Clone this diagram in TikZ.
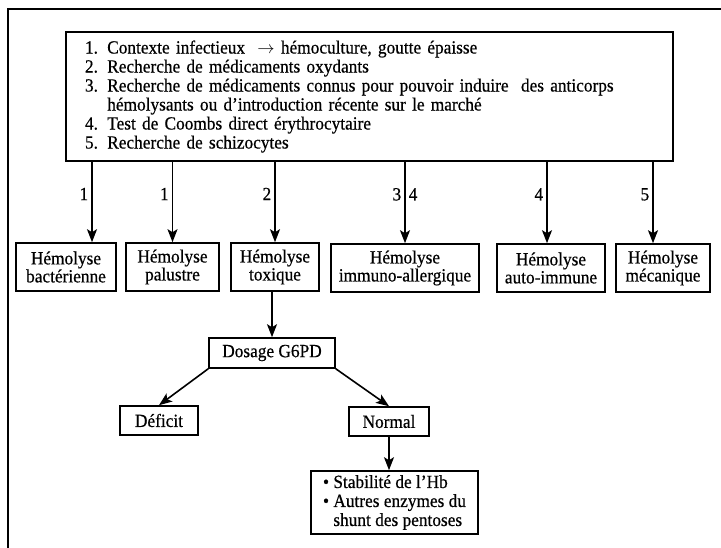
\documentclass[tikz,border=0pt]{standalone}
\usepackage{fontspec}
\setmainfont[FakeStretch=0.93,FakeBold=0.5]{Liberation Serif}
\usepackage{tikz}
\usetikzlibrary{shapes}
\usetikzlibrary{arrows.meta}
\usetikzlibrary{positioning}

\begin{document}
\begin{tikzpicture}[x=1pt,y=-1pt,>={Stealth[length=13pt,width=10pt,inset=3pt]},
font=\fontsize{18.6}{19}\selectfont]
\tikzstyle{frame}=[line width=2pt]
\tikzstyle{box}=[rectangle,draw=black,line width=1.6pt,inner sep=2pt]
\tikzstyle{hemo}=[box,align=center,minimum height=48pt,
font=\fontsize{18.6}{18}\selectfont]
\tikzstyle{link}=[->,line width=1.6pt]
\tikzstyle{num}=[pos=0.4,inner sep=3pt]
\useasboundingbox (0,0) rectangle (721,548);
\draw[frame] (8,548) -- (8,9) -- (721,9);
\node[box,minimum width=607pt,minimum height=129pt,text width=569pt,
inner xsep=19pt,align=left] (criteres) at (369.5,96.5)
{1.\enspace Contexte infectieux\ \ $\rightarrow$\ hémoculture, goutte épaisse\\
2.\enspace Recherche de médicaments oxydants\\
3.\enspace Recherche de médicaments connus pour pouvoir induire\ \ des anticorps\\
\hphantom{3.\enspace}hémolysants ou d’introduction récente sur le marché\\
4.\enspace Test de Coombs direct érythrocytaire\\
5.\enspace Recherche de schizocytes};
\node[hemo,minimum width=100pt] (bacterienne) at (66,267) {Hémolyse\\bactérienne};
\node[hemo,minimum width=93pt] (palustre) at (172.5,267) {Hémolyse\\palustre};
\node[hemo,minimum width=88pt] (toxique) at (275,267) {Hémolyse\\toxique};
\node[hemo,minimum width=148pt] (immuno) at (405,268) {Hémolyse\\immuno-allergique};
\node[hemo,minimum width=108pt] (auto immune) at (551,268) {Hémolyse\\auto-immune};
\node[hemo,minimum width=94pt] (mecanique) at (663,268) {Hémolyse\\mécanique};
\node[box,minimum width=126pt,minimum height=30pt] (dosage) at (272,353) {Dosage G6PD};
\node[box,minimum width=78pt,minimum height=29pt] (deficit) at (159,420.5) {Déficit};
\node[box,minimum width=80pt,minimum height=29pt] (normal) at (389,421.5) {Normal};
\node[box,align=left,minimum width=167pt,minimum height=63pt,inner xsep=5pt]
(enzymes) at (394.5,502.5)
{\textbullet\ Stabilité de l’Hb\\
\textbullet\ Autres enzymes du\\
\hphantom{\textbullet\ }shunt des pentoses};
\coordinate (in bact) at ([xshift=26pt]bacterienne.north);
\coordinate (in auto) at ([xshift=-4pt]auto immune.north);
\coordinate (in meca) at ([xshift=-10pt]mecanique.north);
\draw[link] (criteres.south -| in bact) -- node[left,num] {1} (in bact);
\draw[link] (criteres.south -| palustre.north) -- node[left,num] {1} (palustre.north);
\draw[link] (criteres.south -| toxique.north) -- node[left,num] {2} (toxique.north);
\draw[link] (criteres.south -| immuno.north) -- node[left,num] {3}
node[right,num] {4} (immuno.north);
\draw[link] (criteres.south -| in auto) -- node[left,num] {4} (in auto);
\draw[link] (criteres.south -| in meca) -- node[left,num] {5} (in meca);
\draw[link] (toxique.south -| dosage.north) -- (dosage.north);
\draw[link] (dosage.south west) -- (deficit.north);
\draw[link] (dosage.south east) -- (normal.north);
\draw[link] (normal.south) -- (normal.south |- enzymes.north);
\end{tikzpicture}
\end{document}
